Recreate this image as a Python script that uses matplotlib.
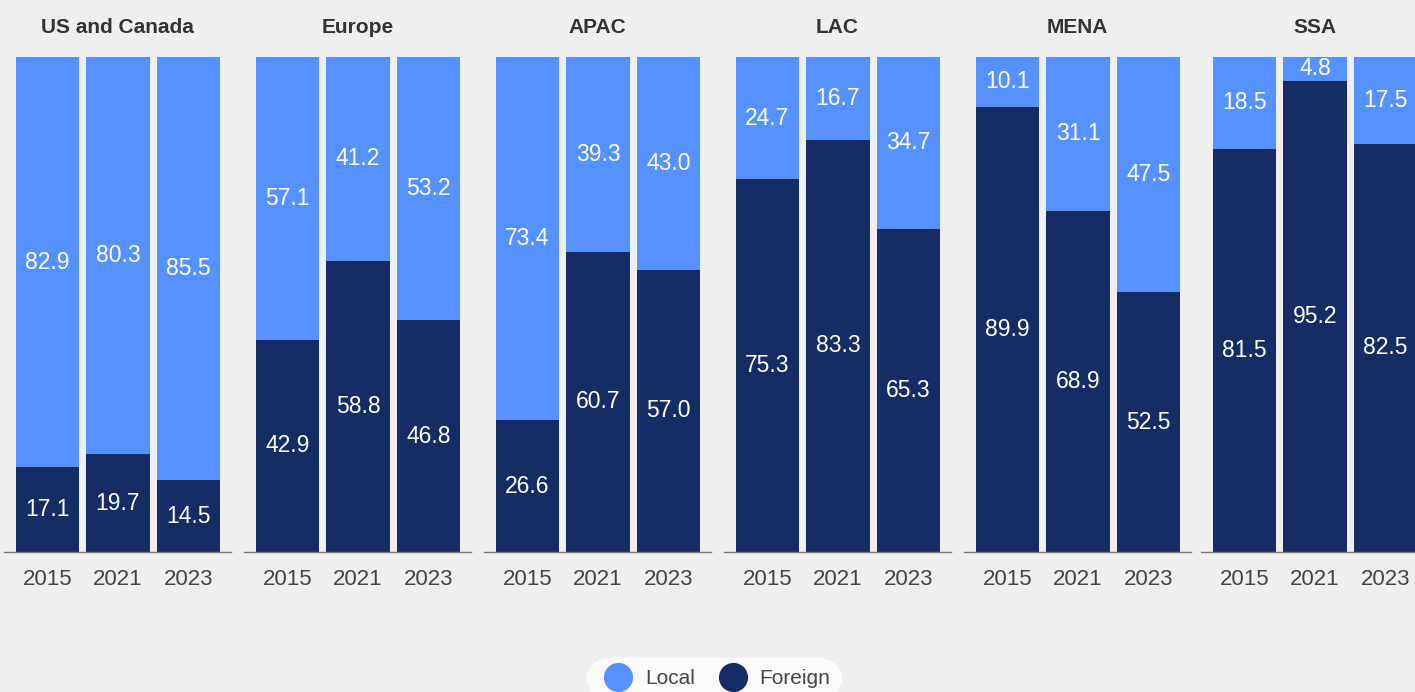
import matplotlib.pyplot as plt
import numpy as np

plt.rcParams['font.family'] = ['Liberation Sans', 'DejaVu Sans']

regions = ['US and Canada', 'Europe', 'APAC', 'LAC', 'MENA', 'SSA']
years = ['2015', '2021', '2023']
local = [
    [82.9, 80.3, 85.5],
    [57.1, 41.2, 53.2],
    [73.4, 39.3, 43.0],
    [24.7, 16.7, 34.7],
    [10.1, 31.1, 47.5],
    [18.5, 4.8, 17.5],
]
foreign = [
    [17.1, 19.7, 14.5],
    [42.9, 58.8, 46.8],
    [26.6, 60.7, 57.0],
    [75.3, 83.3, 65.3],
    [89.9, 68.9, 52.5],
    [81.5, 95.2, 82.5],
]

C_LOCAL = '#5591ff'
C_FOREIGN = '#152d64'
BG = '#efefef'

W, H = 1415, 692
fig = plt.figure(figsize=(W / 100, H / 100), dpi=100, facecolor=BG)

# left edge of each panel in pixels
lefts = [4, 244, 484, 724, 964, 1201]

x = np.arange(3)
for i, name in enumerate(regions):
    ax = fig.add_axes([lefts[i] / W, (H - 552) / H, 227 / W, 495 / H])
    ax.set_facecolor(BG)
    f = np.array(foreign[i])
    l = np.array(local[i])
    ax.bar(x, f, width=0.894, color=C_FOREIGN)
    ax.bar(x, l, width=0.894, bottom=f, color=C_LOCAL)
    for xi, fv, lv in zip(x, f, l):
        ax.text(xi, fv / 2, f'{fv:.1f}', ha='center', va='center',
                color='white', fontsize=16.5)
        ax.text(xi, fv + lv / 2, f'{lv:.1f}', ha='center', va='center',
                color='white', fontsize=16.5)
    ax.set_xlim(-0.617, 2.603)
    ax.set_ylim(0, 100)
    ax.set_xticks(x)
    ax.set_xticklabels(years, fontsize=16, color='#444444')
    ax.tick_params(axis='x', length=0, pad=12)
    ax.set_yticks([])
    for s in ['top', 'right', 'left']:
        ax.spines[s].set_visible(False)
    ax.spines['bottom'].set_color('#777777')
    ax.spines['bottom'].set_linewidth(1)
    ax.set_title(name, fontsize=15, fontweight='bold', color='#333333', pad=17.5)

handles = [
    plt.Line2D([], [], marker='o', linestyle='', markersize=20,
               markerfacecolor=C_LOCAL, markeredgecolor=C_LOCAL),
    plt.Line2D([], [], marker='o', linestyle='', markersize=20,
               markerfacecolor=C_FOREIGN, markeredgecolor=C_FOREIGN),
]
leg = fig.legend(handles, ['Local', 'Foreign'], loc='upper center',
                 bbox_to_anchor=(714 / W, 1 - 648 / H), ncol=2, frameon=True,
                 fontsize=15, handletextpad=0.3, columnspacing=0.8,
                 borderpad=0.5, fancybox=True)
leg.get_frame().set_facecolor('white')
leg.get_frame().set_edgecolor('white')
leg.get_frame().set_boxstyle('round', pad=0, rounding_size=1.2)
for t in leg.get_texts():
    t.set_color('#444444')

fig.savefig('out.png', dpi=100, facecolor=BG)
